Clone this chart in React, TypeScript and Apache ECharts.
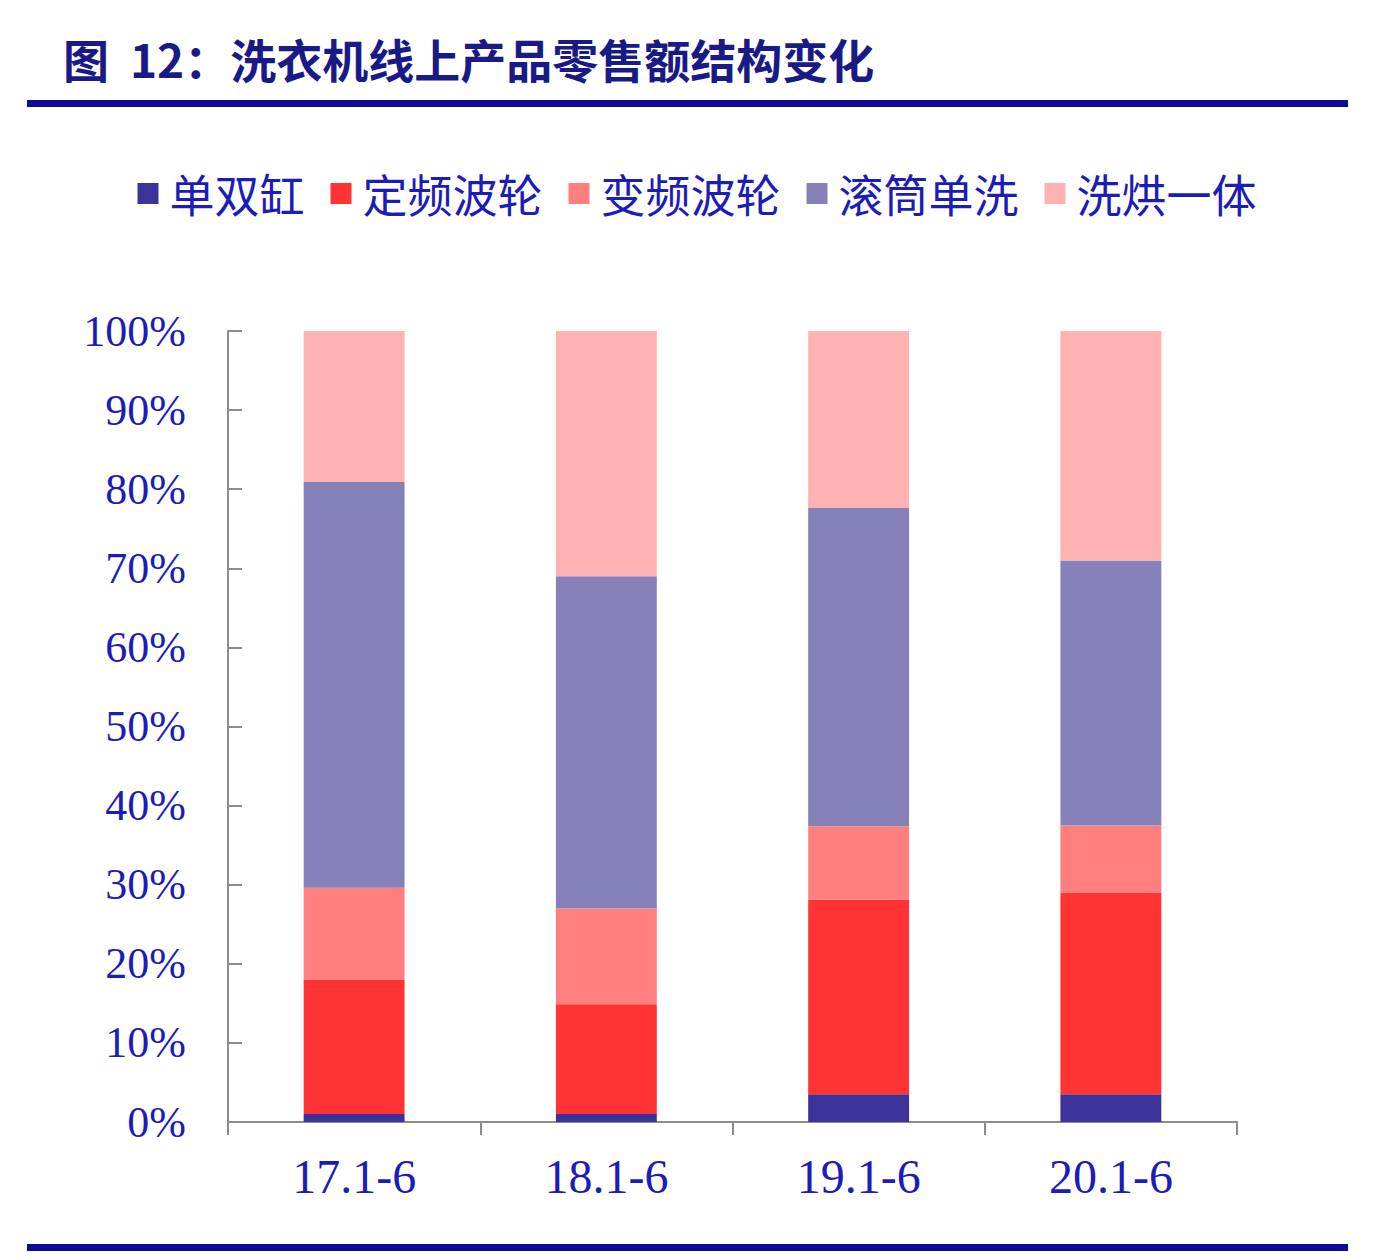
import { useEffect, useRef } from 'react'
import * as echarts from 'echarts'

// 数据
const categories = ['17.1-6', '18.1-6', '19.1-6', '20.1-6']
const seriesNames = ['单双缸', '定频波轮', '变频波轮', '滚筒单洗', '洗烘一体']
const dan = [1.0, 1.0, 3.5, 3.5]
const dingpin = [17.0, 13.9, 24.6, 25.5]
const bianpin = [11.6, 12.1, 9.3, 8.5]
const guntong = [51.3, 42.0, 40.3, 33.5]
const xihong = [19.1, 31.0, 22.3, 29.0]
const colors = ['#3B3399', '#FF3333', '#FF7F7F', '#8781BA', '#FFB2B2']

const TEXT_BLUE = '#1C1CB8'
const LINE_BLUE = '#0C0C96'

const App: React.FC = () => {
  const chartRef = useRef<HTMLDivElement | null>(null)

  useEffect(() => {
    if (chartRef.current === null) return
    const chart = echarts.init(chartRef.current, undefined, { renderer: 'svg' })
    const values = [dan, dingpin, bianpin, guntong, xihong]
    chart.setOption({
      animation: false,
      backgroundColor: '#ffffff',
      title: {
        text: '图  12：洗衣机线上产品零售额结构变化',
        left: 58,
        top: 30,
        textStyle: {
          fontFamily: 'Noto Sans CJK SC',
          fontWeight: 'bold',
          fontSize: 46,
          color: '#1A1A86'
        }
      },
      graphic: [
        { type: 'rect', shape: { x: 27, y: 100, width: 1321, height: 7 }, style: { fill: LINE_BLUE } },
        { type: 'rect', shape: { x: 27, y: 1244, width: 1321, height: 7 }, style: { fill: LINE_BLUE } }
      ],
      legend: {
        left: 'center',
        top: 166,
        itemWidth: 21,
        itemHeight: 21,
        itemGap: 26,
        icon: 'rect',
        data: seriesNames,
        textStyle: {
          fontFamily: 'Noto Sans CJK SC',
          fontSize: 45,
          color: TEXT_BLUE,
          padding: [0, 0, 0, 6]
        }
      },
      grid: {
        left: 228,
        right: 157,
        top: 331,
        bottom: 136,
        containLabel: false
      },
      xAxis: {
        type: 'category',
        data: categories,
        axisLine: { lineStyle: { color: '#8c8c8c', width: 2 } },
        axisTick: { show: true, interval: 0, alignWithLabel: false, length: 13, lineStyle: { color: '#8c8c8c', width: 2 } },
        axisLabel: {
          fontFamily: 'Liberation Serif',
          fontSize: 48,
          color: TEXT_BLUE,
          margin: 30
        }
      },
      yAxis: {
        type: 'value',
        min: 0,
        max: 100,
        interval: 10,
        splitLine: { show: false },
        axisLine: { show: true, lineStyle: { color: '#8c8c8c', width: 2 } },
        axisTick: { show: true, inside: true, length: 14, lineStyle: { color: '#8c8c8c', width: 2 } },
        axisLabel: {
          formatter: '{value}%',
          fontFamily: 'Liberation Serif',
          fontSize: 44,
          color: TEXT_BLUE,
          margin: 42
        }
      },
      series: seriesNames.map((name, i) => ({
        name,
        type: 'bar',
        stack: 'total',
        barWidth: '40%',
        data: values[i],
        itemStyle: { color: colors[i] }
      }))
    })
    return () => {
      chart.dispose()
    }
  }, [])

  return (
    <div
      ref={chartRef}
      style={{ position: 'absolute', left: 0, top: 0, width: 1394, height: 1258 }}
    ></div>
  )
}

export default App
